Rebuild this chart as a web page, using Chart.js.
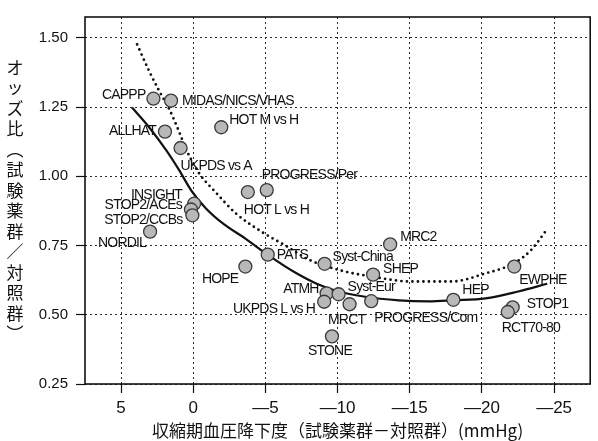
<!DOCTYPE html>
<html>
<head>
<meta charset="utf-8">
<script src="https://cdn.jsdelivr.net/npm/chart.js@4/dist/chart.umd.min.js"></script>
<style>
  html, body { margin: 0; padding: 0; background: #fff; }
  #wrap { width: 598px; height: 441px; }
</style>
</head>
<body>
<div id="wrap"><canvas id="c" width="598" height="441"></canvas></div>
<script>
// Trials: systolic BP difference (treatment - control, mmHg) vs odds ratio
const studies = [
  'CAPPP', 'MIDAS/NICS/VHAS', 'ALLHAT', 'HOT M vs H', 'UKPDS vs A',
  'PROGRESS/Per', 'HOT L vs H', 'INSIGHT', 'STOP2/ACEs', 'STOP2/CCBs',
  'NORDIL', 'HOPE', 'PATS', 'Syst-China', 'MRC2', 'SHEP', 'ATMH',
  'UKPDS L vs H', 'Syst-Eur', 'MRCT', 'PROGRESS/Com', 'STONE', 'HEP',
  'EWPHE', 'STOP1', 'RCT70-80'
];
const bpDiff = [
  2.76, 1.54, 1.96, -1.94, 0.88,
  -5.09, -3.78, -0.06, 0.16, 0.06,
  2.99, -3.61, -5.16, -9.10, -13.64, -12.46, -9.24,
  -9.07, -10.07, -10.83, -12.33, -9.61, -18.02,
  -22.24, -22.13, -21.79
];
const oddsRatio = [
  1.280, 1.273, 1.161, 1.177, 1.102,
  0.950, 0.943, 0.901, 0.880, 0.859,
  0.800, 0.674, 0.717, 0.684, 0.754, 0.645, 0.577,
  0.547, 0.574, 0.538, 0.549, 0.422, 0.554,
  0.674, 0.527, 0.510
];

// Fitted curve, solid
const solidX = [4.24, 3.06, 1.89, 0.99, 0.09, -0.88, -2.12, -3.64, -5.17, -6.97,
                -8.55, -10.07, -11.80, -14.23, -16.30, -18.03, -20.25, -22.51, -24.52];
const solidY = [1.248, 1.177, 1.095, 1.023, 0.945, 0.884, 0.827, 0.774, 0.716, 0.655,
                0.612, 0.584, 0.566, 0.552, 0.548, 0.552, 0.559, 0.584, 0.612];

// Fitted curve, dotted
const dottedX = [3.89, 3.06, 2.36, 1.68, 0.99, 0.50, -0.39, -1.57, -2.95, -4.75,
                 -6.41, -8.00, -10.28, -12.35, -15.12, -17.88, -20.23, -22.30, -23.41, -24.52];
const dottedY = [1.476, 1.380, 1.308, 1.244, 1.162, 1.098, 1.012, 0.941, 0.866, 0.799,
                 0.749, 0.699, 0.659, 0.638, 0.620, 0.620, 0.649, 0.688, 0.734, 0.809];

// Axis ticks
const xTickValues = [5, 0, -5, -10, -15, -20, -25];
const yTickValues = [0.25, 0.50, 0.75, 1.00, 1.25, 1.50];
const yTickLabels = ['0.25', '0.50', '0.75', '1.00', '1.25', '1.50'];

const xTitle = '収縮期血圧降下度（試験薬群－対照群）(mmHg)';
const yTitle = 'オッズ比（試験薬群／対照群）';

// Label placement around each marker: [dx, dy, align]
const labelPlacement = {
  'CAPPP': [-8, -4, 'right'],
  'MIDAS/NICS/VHAS': [11, 0, 'left'],
  'ALLHAT': [-9, -1, 'right'],
  'HOT M vs H': [8, -7, 'left'],
  'UKPDS vs A': [0, 18, 'left'],
  'PROGRESS/Per': [-5, -15, 'left'],
  'HOT L vs H': [-4, 18, 'left'],
  'INSIGHT': [-12, -9, 'right'],
  'STOP2/ACEs': [-9, -4, 'right'],
  'STOP2/CCBs': [-10, 5, 'right'],
  'NORDIL': [-4, 11, 'right'],
  'HOPE': [-7, 13, 'right'],
  'PATS': [9, 0, 'left'],
  'Syst-China': [8, -7, 'left'],
  'MRC2': [10, -7, 'left'],
  'SHEP': [10, -5, 'left'],
  'ATMH': [-8, -4, 'right'],
  'UKPDS L vs H': [-9, 7, 'right'],
  'Syst-Eur': [9, -7, 'left'],
  'MRCT': [-3, 16, 'center'],
  'PROGRESS/Com': [3, 17, 'left'],
  'STONE': [-2, 15, 'center'],
  'HEP': [9, -10, 'left'],
  'EWPHE': [5, 14, 'left'],
  'STOP1': [14, -3, 'left'],
  'RCT70-80': [-6, 16, 'left']
};

const toXY = (xs, ys) => xs.map((x, i) => ({ x, y: ys[i] }));
const fmtX = v => (v < 0 ? '\u2014' + Math.abs(v) : String(v));

const decorate = {
  id: 'decorate',
  afterDatasetsDraw(chart) {
    const { ctx, chartArea: a } = chart;
    ctx.save();
    // frame around the plotting area
    ctx.strokeStyle = '#111';
    ctx.lineWidth = 1.6;
    ctx.strokeRect(a.left, a.top, a.right - a.left, a.bottom - a.top);

    // study names beside the markers
    const meta = chart.getDatasetMeta(0);
    ctx.font = '14px "Liberation Sans", Arial, sans-serif';
    ctx.fillStyle = '#111';
    ctx.textBaseline = 'middle';
    if ('letterSpacing' in ctx) ctx.letterSpacing = '-0.8px';
    meta.data.forEach((pt, i) => {
      const p = labelPlacement[studies[i]] || [8, 0, 'left'];
      ctx.textAlign = p[2];
      ctx.fillText(studies[i], pt.x + p[0], pt.y + p[1]);
    });
    ctx.restore();
  },
  afterDraw(chart) {
    const { ctx, chartArea: a } = chart;
    ctx.save();
    ctx.fillStyle = '#111';
    // x axis title
    ctx.font = '17px "Noto Sans CJK JP", sans-serif';
    ctx.textAlign = 'center';
    ctx.textBaseline = 'middle';
    ctx.fillText(xTitle, (a.left + a.right) / 2, 431);
    // y axis title, set vertically one character per line
    const vert = { '（': '\uFE35', '）': '\uFE36' };
    const chars = Array.from(yTitle);
    const step = 20.5;
    const y0 = (a.top + a.bottom) / 2 - (chars.length - 1) * step / 2;
    chars.forEach((ch, i) => {
      ctx.fillText(vert[ch] || ch, 15, y0 + i * step);
    });
    ctx.restore();
  }
};

const gridOpts = {
  color: '#2a2a2a',
  lineWidth: 1,
  borderDash: [2, 3],
  tickLength: 9,
  tickColor: '#111',
  tickWidth: 1.2,
  tickBorderDash: []
};

new Chart(document.getElementById('c'), {
  type: 'scatter',
  data: {
    datasets: [
      {
        label: 'trials',
        data: toXY(bpDiff, oddsRatio),
        pointRadius: 6.5,
        pointHoverRadius: 6.5,
        pointBackgroundColor: '#b8b8b8',
        pointBorderColor: '#3a3a3a',
        pointBorderWidth: 1.3,
        showLine: false
      },
      {
        label: 'solid fit',
        data: toXY(solidX, solidY),
        showLine: true,
        borderColor: '#111',
        borderWidth: 2.2,
        pointRadius: 0,
        cubicInterpolationMode: 'monotone'
      },
      {
        label: 'dotted fit',
        data: toXY(dottedX, dottedY),
        showLine: true,
        borderColor: '#111',
        borderWidth: 2.8,
        borderDash: [0, 5.5],
        borderCapStyle: 'round',
        pointRadius: 0,
        cubicInterpolationMode: 'monotone'
      }
    ]
  },
  options: {
    responsive: false,
    animation: false,
    devicePixelRatio: 1,
    layout: { padding: { top: 13, right: 6, left: 0, bottom: 0 } },
    plugins: { legend: { display: false }, tooltip: { enabled: false } },
    scales: {
      x: {
        type: 'linear',
        reverse: true,
        min: -27.5,
        max: 7.5,
        afterBuildTicks: s => { s.ticks = xTickValues.map(v => ({ value: v })); },
        afterFit: s => { s.height = 57; },
        ticks: {
          callback: v => fmtX(v),
          color: '#111',
          font: { size: 17, family: '"Liberation Sans", Arial, sans-serif' },
          padding: 5,
          maxRotation: 0,
          autoSkip: false
        },
        grid: gridOpts,
        border: { display: false, dash: [2, 3] }
      },
      y: {
        type: 'linear',
        min: 0.25,
        max: 1.575,
        afterBuildTicks: s => { s.ticks = yTickValues.map(v => ({ value: v })); },
        afterFit: s => { s.width = 85; },
        ticks: {
          callback: (v, i) => yTickLabels[i],
          color: '#111',
          font: { size: 15, family: '"Liberation Sans", Arial, sans-serif' },
          padding: 8,
          autoSkip: false
        },
        grid: gridOpts,
        border: { display: false, dash: [2, 3] }
      }
    }
  },
  plugins: [decorate]
});
</script>
</body>
</html>
